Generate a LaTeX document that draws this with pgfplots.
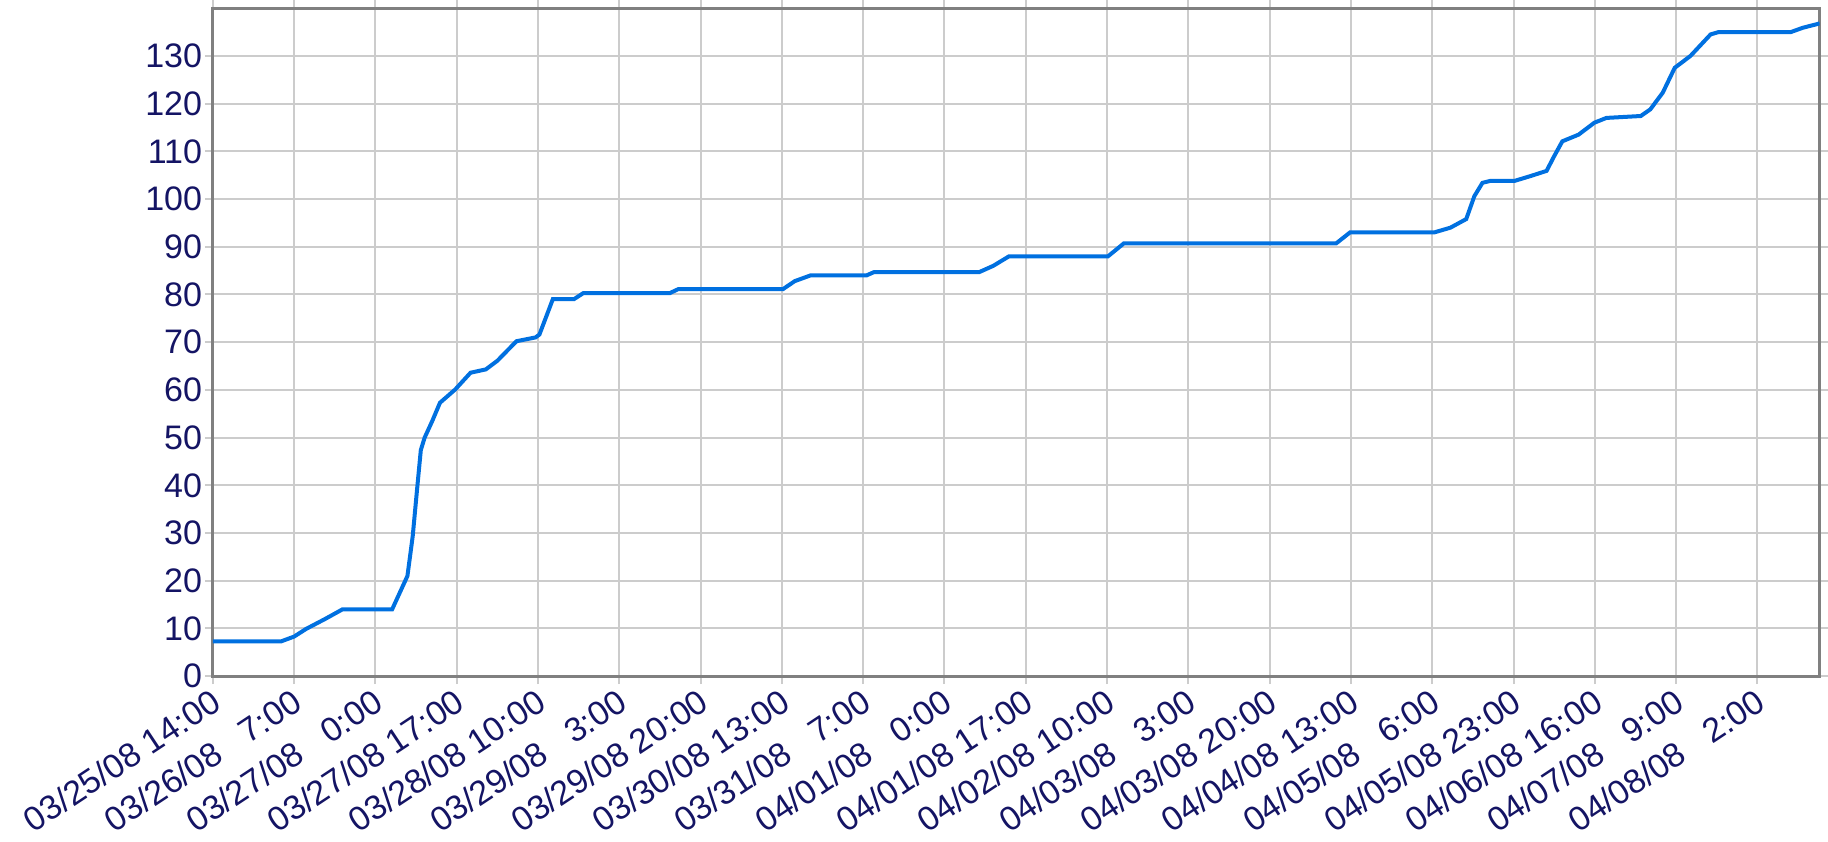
\documentclass[border=0pt]{standalone}
\usepackage{fontspec}
\setmainfont{Liberation Sans}
\usepackage{pgfplots}
\pgfplotsset{compat=1.18}
\definecolor{navy}{RGB}{20,20,100}
\definecolor{gridgray}{RGB}{204,204,204}
\definecolor{framegray}{RGB}{128,128,128}
\definecolor{lineblue}{RGB}{0,112,224}
\begin{document}
\begin{tikzpicture}
\path[use as bounding box] (-53.2pt,-41.25pt) rectangle (403.8pt,169.05pt);
\begin{axis}[
  at={(0,0)}, anchor=south west,
  scale only axis, width=401.7pt, height=167pt,
  xmin=0, xmax=336, ymin=0, ymax=140,
  xtick={0,17,34,51,68,85,102,119,136,153,170,187,204,221,238,255,272,289,306,323},
  ytick={0,10,20,30,40,50,60,70,80,90,100,110,120,130},
  xticklabels={
    03/25/08 14:00, 03/26/08 \phantom{1}7:00, 03/27/08 \phantom{1}0:00, 03/27/08 17:00,
    03/28/08 10:00, 03/29/08 \phantom{1}3:00, 03/29/08 20:00, 03/30/08 13:00,
    03/31/08 \phantom{1}7:00, 04/01/08 \phantom{1}0:00, 04/01/08 17:00, 04/02/08 10:00,
    04/03/08 \phantom{1}3:00, 04/03/08 20:00, 04/04/08 13:00, 04/05/08 \phantom{1}6:00,
    04/05/08 23:00, 04/06/08 16:00, 04/07/08 \phantom{1}9:00, 04/08/08 \phantom{1}2:00},
  grid=major,
  major grid style={draw=gridgray, line width=0.5pt},
  axis line style={draw=framegray, line width=0.7pt},
  tick align=outside, major tick length=2pt,
  tick style={draw=gridgray, line width=0.5pt},
  /pgf/number format/assume math mode=true,
  tick label style={font=\fontsize{8.5}{10}\selectfont, text=navy},
  x tick label style={rotate=33.5, anchor=north east, inner sep=1pt, yshift=1pt},
  y tick label style={inner sep=0.5pt},
]
\addplot[lineblue, line width=1pt] coordinates {
(0,7.3) (14.3,7.3) (17,8.3) (19.5,9.9) (23.5,12) (27.1,14) (37.5,14) (40.7,21)
(41.8,29.3) (42.7,39) (43.5,47.4) (44.3,50) (45.9,53.5) (47.5,57.3) (50.7,60.1)
(53.9,63.6) (57.1,64.3) (59.5,66.1) (63.5,70.2) (67.5,71) (68.3,71.6) (71.1,79)
(75.5,79) (77.5,80.3) (95.6,80.3) (97.3,81.1) (119.2,81.1) (121.7,82.8) (125,84)
(136.7,84) (138.3,84.7) (160.3,84.7) (163.2,86) (166.5,88) (187.2,88) (190.5,90.7)
(234.9,90.7) (237.8,93) (255.4,93) (258.8,94) (262.1,95.8) (263.8,100.6)
(265.5,103.4) (267.1,103.8) (272.2,103.8) (275.5,104.8) (278.9,105.9) (280.5,109)
(282.2,112.1) (285.6,113.5) (288.9,116) (291.4,117) (298.6,117.4) (300.6,118.8)
(303.2,122.3) (305.7,127.5) (309,130) (313.2,134.5) (314.9,135) (330,135)
(332.5,135.9) (336,136.8)
};
\end{axis}
\end{tikzpicture}
\end{document}
